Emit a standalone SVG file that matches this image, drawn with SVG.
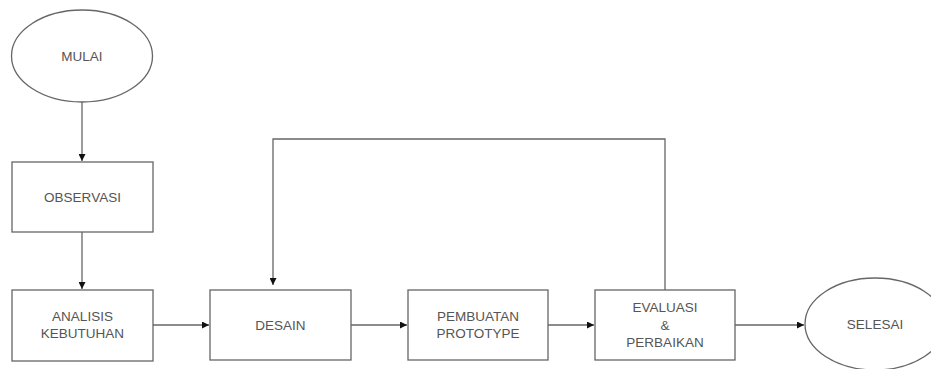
<svg xmlns="http://www.w3.org/2000/svg" width="931" height="369" viewBox="0 0 931 369">
<style>
.shape{fill:#ffffff;stroke:#666666;stroke-width:1.3}
.lbl{font-family:"Liberation Sans",Arial,sans-serif;font-size:13.5px;fill:#555555;text-anchor:middle}
.conn{fill:none;stroke:#666666;stroke-width:1.3}
</style>
<defs>
<marker id="arr" viewBox="0 0 10 10" refX="10" refY="5" markerWidth="7" markerHeight="7" markerUnits="userSpaceOnUse" orient="auto">
<path d="M0,0 L10,5 L0,10 z" fill="#111111"/>
</marker>
</defs>
<rect width="931" height="369" fill="#ffffff"/>
<g id="connectors">
<line class="conn" x1="82" y1="102" x2="82" y2="161" marker-end="url(#arr)"/>
<line class="conn" x1="82" y1="232" x2="82" y2="289" marker-end="url(#arr)"/>
<line class="conn" x1="153" y1="325" x2="209" y2="325" marker-end="url(#arr)"/>
<line class="conn" x1="351" y1="325" x2="407" y2="325" marker-end="url(#arr)"/>
<line class="conn" x1="548" y1="325" x2="594" y2="325" marker-end="url(#arr)"/>
<line class="conn" x1="735" y1="325" x2="804" y2="325" marker-end="url(#arr)"/>
<polyline class="conn" points="665,290 665,139 273,139 273,285" marker-end="url(#arr)"/>
</g>
<g id="mulai">
<ellipse class="shape" cx="82" cy="56" rx="70.5" ry="46"/>
<text class="lbl" x="82" y="61">MULAI</text>
</g>
<g id="observasi">
<rect class="shape" x="12" y="162" width="141" height="70"/>
<text class="lbl" x="82.5" y="202">OBSERVASI</text>
</g>
<g id="analisis">
<rect class="shape" x="12" y="290" width="141" height="71"/>
<text class="lbl" x="82.5" y="321">ANALISIS</text>
<text class="lbl" x="82.5" y="338">KEBUTUHAN</text>
</g>
<g id="desain">
<rect class="shape" x="210" y="290" width="141" height="70"/>
<text class="lbl" x="280.5" y="330">DESAIN</text>
</g>
<g id="pembuatan">
<rect class="shape" x="408" y="290" width="140" height="70"/>
<text class="lbl" x="478" y="321">PEMBUATAN</text>
<text class="lbl" x="478" y="338">PROTOTYPE</text>
</g>
<g id="evaluasi">
<rect class="shape" x="595" y="290" width="140" height="70"/>
<text class="lbl" x="665" y="312">EVALUASI</text>
<text class="lbl" x="665" y="330">&amp;</text>
<text class="lbl" x="665" y="347">PERBAIKAN</text>
</g>
<g id="selesai">
<ellipse class="shape" cx="875" cy="324" rx="70" ry="46"/>
<text class="lbl" x="875" y="329">SELESAI</text>
</g>
</svg>
